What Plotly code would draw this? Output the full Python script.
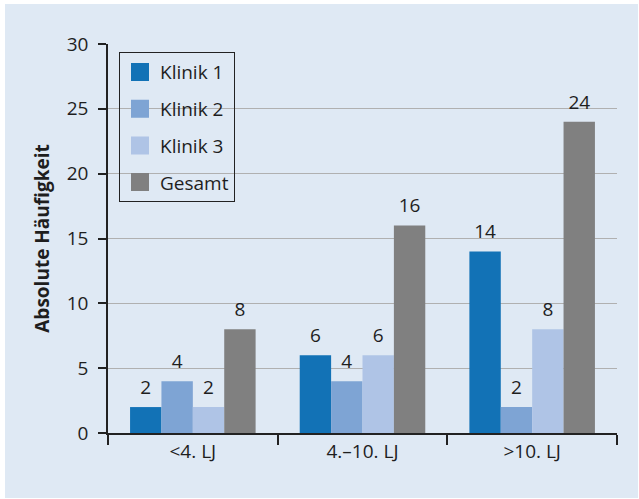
import plotly.graph_objects as go

categories = ["<4. LJ", "4.–10. LJ", ">10. LJ"]
series_names = ["Klinik 1", "Klinik 2", "Klinik 3", "Gesamt"]
klinik1 = [2, 6, 14]
klinik2 = [4, 4, 2]
klinik3 = [2, 6, 8]
gesamt = [8, 16, 24]
y_ticks = [0, 5, 10, 15, 20, 25, 30]

series_values = [klinik1, klinik2, klinik3, gesamt]
colors = ["#1272b6", "#7ea4d4", "#afc4e6", "#808080"]
FONT = "Open Sans"
TXT = "#1e1e1e"
FS = 19
GAP = 0.26

fig = go.Figure()
# bars
for i, (name, vals, col) in enumerate(zip(series_names, series_values, colors)):
    fig.add_trace(go.Bar(
        x=categories, y=vals, name=name, marker=dict(color=col, line=dict(width=0)),
        showlegend=False, hoverinfo="x+y+name",
    ))
# value labels (grouped scatter text aligned with the bars)
for i, (name, vals) in enumerate(zip(series_names, series_values)):
    fig.add_trace(go.Scatter(
        x=categories, y=vals, mode="markers+text", text=[str(v) for v in vals],
        textposition="top center", cliponaxis=False,
        marker=dict(size=12, color="rgba(0,0,0,0)"),
        textfont=dict(family=FONT, size=FS, color=TXT),
        showlegend=False, hoverinfo="skip",
    ))
# legend entries
for i, (name, col) in enumerate(zip(series_names, colors)):
    fig.add_trace(go.Scatter(
        x=[None], y=[None], xaxis="x2", yaxis="y", mode="markers", name=name,
        legendgroup=f"g{i}",
        marker=dict(symbol="square", size=16, color=col, line=dict(color=col, width=2)),
    ))

fig.update_layout(
    width=639, height=499,
    margin=dict(l=108, r=22, t=44, b=66),
    paper_bgcolor="white",
    plot_bgcolor="rgba(0,0,0,0)",
    barmode="group", bargap=GAP, bargroupgap=0,
    scattermode="group", scattergap=GAP,
    font=dict(family=FONT, size=FS, color=TXT),
    legend=dict(
        x=0.0216, y=0.979, xanchor="left", yanchor="top",
        bgcolor="rgba(0,0,0,0)", bordercolor="#222222", borderwidth=1,
        font=dict(family=FONT, size=FS, color=TXT),
        tracegroupgap=9, itemwidth=30,
    ),
    shapes=[dict(
        type="rect", xref="paper", yref="paper",
        x0=-0.2024, x1=1.0413, y0=-0.167, y1=1.1028,
        fillcolor="#dfe9f4", line=dict(width=0), layer="below",
    )],
    xaxis=dict(
        type="category", showgrid=False, showline=True, linecolor="#222222", linewidth=1.5,
        ticks="outside", tickson="boundaries", ticklen=10, tickcolor="#222222", tickwidth=1.5,
        tickfont=dict(family=FONT, size=FS, color=TXT),
    ),
    xaxis2=dict(overlaying="x", visible=False, range=[0, 1]),
    yaxis=dict(
        range=[0, 30], tickvals=y_ticks, showgrid=True, gridcolor="#b0b0b0", gridwidth=1.2,
        showline=True, linecolor="#222222", linewidth=1.5, zeroline=False,
        ticks="outside", ticklen=8, tickcolor="#222222", tickwidth=1.5,
        tickfont=dict(family=FONT, size=FS, color=TXT), ticklabelstandoff=6,
        title=dict(text="<b>Absolute Häufigkeit</b>", font=dict(family=FONT, size=FS, color=TXT), standoff=12),
    ),
)

fig.write_html("out.html")
